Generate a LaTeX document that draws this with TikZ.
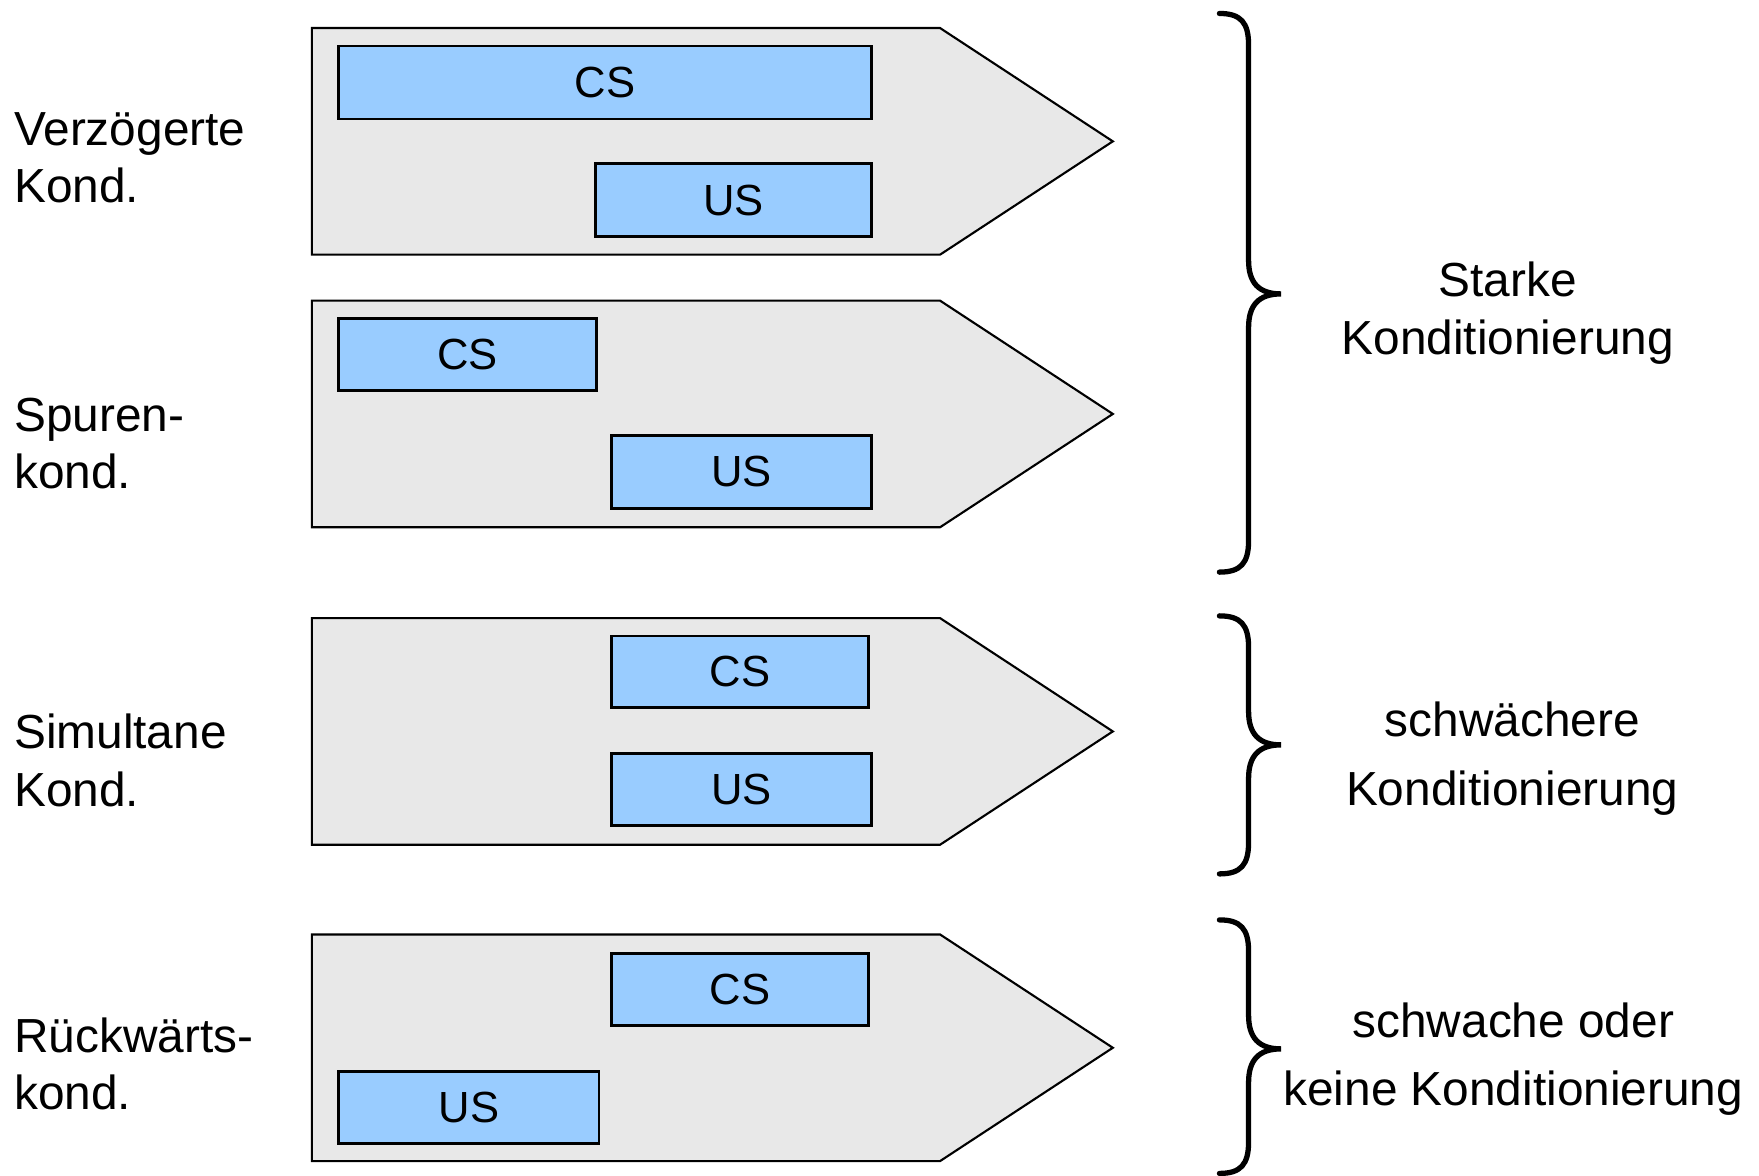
\documentclass[tikz,border=0pt]{standalone}
\usepackage{fontspec}
\setmainfont{Liberation Sans}
\usetikzlibrary{fit}
\definecolor{BarFill}{HTML}{E8E8E8}
\definecolor{StimBlue}{HTML}{99CCFF}
\tikzset{
  every node/.style={font=\fontsize{13.6}{16.4}\selectfont, text=black},
  trial/.style={draw=black, line width=0.6pt, fill=BarFill, line join=miter},
  stim/.style={draw=black, line width=0.8pt, fill=StimBlue, inner sep=0pt,
               label={[font=\fontsize{12.4}{14}\selectfont]center:#1}},
  kind/.style={anchor=west, align=left, inner sep=0pt},
  effect/.style={align=center, inner sep=0pt},
  curly/.style={draw=black, line width=1.5pt, line cap=round},
}

\begin{document}
\begin{tikzpicture}[x=0.011218cm, y=-0.011218cm]
  \useasboundingbox (0,0) rectangle (1568,1048);

  % Time bars, one per procedure
  \foreach \t in {25,268,551,833}
    \draw[trial] (278,\t) -- (838,\t) -- (992,\t+101) -- (838,\t+202)
                 -- (278,\t+202) -- cycle;

  % CS and US intervals
  \node[stim=CS, fit={(302,41) (777,106)}]   (cs1) {};
  \node[stim=US, fit={(531,146) (777,211)}]  (us1) {};
  \node[stim=CS, fit={(302,284) (532,348)}]  (cs2) {};
  \node[stim=US, fit={(545,388) (777,453)}]  (us2) {};
  \node[stim=CS, fit={(545,567) (774,631)}]  (cs3) {};
  \node[stim=US, fit={(545,672) (777,736)}]  (us3) {};
  \node[stim=CS, fit={(545,850) (774,914)}]  (cs4) {};
  \node[stim=US, fit={(302,955) (534,1019)}] (us4) {};

  % Procedure names
  \node[kind] (delayed)  at (12,140.5) {Verzögerte\\Kond.};
  \node[kind] (trace)    at (12,395.5) {Spuren-\\kond.};
  \node[kind] (simult)   at (12,678)   {Simultane\\Kond.};
  \node[kind] (backward) at (12,948.5) {Rückwärts-\\kond.};

  % Braces grouping the procedures
  \foreach \ytop/\ymid/\ybot in {12/262/510, 549/664/779, 820/935/1046}
    \draw[curly] (1087,\ytop) .. controls (1106,\ytop) and (1113,\ytop+8) .. (1113,\ytop+28)
      -- (1113,\ymid-30) .. controls (1113,\ymid-10) and (1122,\ymid) .. (1142,\ymid)
      .. controls (1122,\ymid) and (1113,\ymid+10) .. (1113,\ymid+30)
      -- (1113,\ybot-28) .. controls (1113,\ybot-8) and (1106,\ybot) .. (1087,\ybot);

  % Strength of conditioning
  \node[effect] (strong) at (1344,279) {Starke\\Konditionierung};
  \node[effect, font=\fontsize{13.6}{19.7}\selectfont] (weaker) at (1348,676)
       {schwächere\\Konditionierung};
  \node[effect, font=\fontsize{13.6}{19.4}\selectfont] (weak) at (1349,944)
       {schwache oder\\keine Konditionierung};
\end{tikzpicture}
\end{document}
